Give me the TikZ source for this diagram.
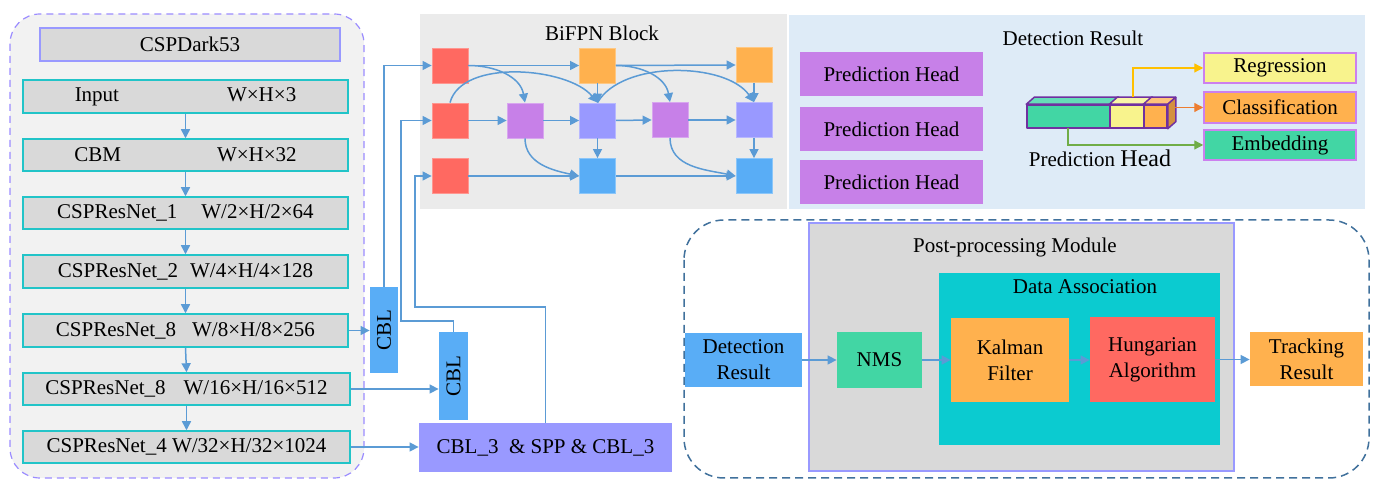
\documentclass[tikz,border=0pt]{standalone}
\usepackage{fontspec}
\usepackage{graphicx}
\setmainfont{Liberation Serif}
\usetikzlibrary{arrows.meta,calc}

\definecolor{lineblue}{HTML}{5B9BD5}
\definecolor{panelgray}{HTML}{F2F2F2}
\definecolor{bifpngray}{HTML}{EBEBEB}
\definecolor{detblue}{HTML}{DEEBF7}
\definecolor{boxgray}{HTML}{D9D9D9}
\definecolor{stageteal}{HTML}{22C4C8}
\definecolor{lav}{HTML}{9999FF}
\definecolor{lavdash}{HTML}{9B8CFF}
\definecolor{bred}{HTML}{FF6961}
\definecolor{borange}{HTML}{FFB14E}
\definecolor{bpurple}{HTML}{C780E8}
\definecolor{bblue}{HTML}{59ADF6}
\definecolor{bgreen}{HTML}{42D6A4}
\definecolor{bcyan}{HTML}{0BCBD0}
\definecolor{byellow}{HTML}{F8F38D}
\definecolor{prpurple}{HTML}{7030A0}
\definecolor{boxviolet}{HTML}{CC80EE}
\definecolor{greentop}{HTML}{66DDB8}
\definecolor{yellowtop}{HTML}{FAF5A8}
\definecolor{orangetop}{HTML}{FFC27A}
\definecolor{orangeside}{HTML}{D4913F}
\definecolor{arryellow}{HTML}{FFC000}
\definecolor{arrorange}{HTML}{ED7D31}
\definecolor{arrgreen}{HTML}{70AD47}
\definecolor{steel}{HTML}{41719C}

\begin{document}
\begin{tikzpicture}[x=0.5pt,y=-0.5pt,
  every node/.style={font=\fontsize{10.5}{13}\selectfont, inner sep=0pt},
  % a box given by its two corners (x1,y1) and (x2,y2)
  rect/.style n args={4}{minimum width={(#3-#1)*0.5pt}, minimum height={(#4-#2)*0.5pt},
    at={({(#1+#3)/2},{(#2+#4)/2})}},
  stage/.style={draw=stageteal, line width=0.75pt, fill=boxgray},
  cblbox/.style={fill=bblue},
  bn/.style={minimum width=18pt, minimum height=17.5pt, line width=0.4pt},
  arr/.style={draw=lineblue, line width=0.75pt, -{Triangle[length=4.5pt,width=4.5pt]}},
  feed/.style={draw=lineblue, line width=0.6pt, -{Triangle[length=4.5pt,width=4.5pt]}},
  headbox/.style={fill=bpurple},
  outbox/.style={draw=boxviolet, line width=0.75pt},
  face/.style={draw=prpurple, line width=0.75pt, line join=round},
  colarr/.style={line width=0.6pt, -{Triangle[length=4.5pt,width=4.5pt]}},
  ppbox/.style={align=center}
]
\useasboundingbox (0,0) rectangle (1373,480);

% ---------- backbone ----------
\draw[draw=lavdash, fill=panelgray, line width=0.6pt, dash pattern=on 3.5pt off 2.5pt, rounded corners=15pt]
  (10,14) rectangle (364,478);
\node[draw=lav, line width=0.75pt, fill=boxgray, rect={40}{28}{340}{61}] (dark) {CSPDark53};

\node[stage, rect={23}{80}{348}{113}] (inp) {Input\hspace{54pt}W×H×3};
\node[stage, rect={23}{139}{348}{171}] (cbm) {CBM\hspace{48pt}W×H×32};
\node[stage, rect={23}{197}{348}{229}] (r1) {CSPResNet\_1\hspace{12pt}W/2×H/2×64};
\node[stage, rect={23}{255}{348}{288}] (r2) {CSPResNet\_2\hspace{6pt}W/4×H/4×128};
\node[stage, rect={23}{314}{348}{347}] (r8a) {CSPResNet\_8\hspace{8pt}W/8×H/8×256};
\node[stage, rect={23}{373}{350}{405}] (r8b) {CSPResNet\_8\hspace{9pt}W/16×H/16×512};
\node[stage, rect={23}{431}{350}{463}] (r4) {CSPResNet\_4 W/32×H/32×1024};

\draw[arr] (inp.south) -- (cbm.north);
\draw[arr] (cbm.south) -- (r1.north);
\draw[arr] (r1.south) -- (r2.north);
\draw[arr] (r2.south) -- (r8a.north);
\draw[arr] (r8a.south) -- (r8b.north);
\draw[arr] (r8b.south) -- (r4.north);

% ---------- neck ----------
\node[cblbox, rect={370}{287}{398}{373}] (cbl1) {\rotatebox{90}{CBL}};
\node[cblbox, rect={439}{332}{468}{420}] (cbl2) {\rotatebox{90}{CBL}};
\node[fill=lav, rect={419}{423}{672}{472}] (spp) {CBL\_3 \ \& SPP \& CBL\_3};

\draw[arr] (r8a.east) -- (r8a.east -| cbl1.west);
\draw[arr] (r8b.east) -- (r8b.east -| cbl2.west);
\draw[arr] (r4.east) -- (r4.east -| spp.west);

% ---------- BiFPN ----------
\fill[bifpngray] (420,14) rectangle (787,209);
\node (bititle) at (602,33) {BiFPN Block};

\node[bn, fill=bred, draw=bred!70!white] (a1) at (450,65.5) {};
\node[bn, fill=bred, draw=bred!70!white] (a2) at (450,120.5) {};
\node[bn, fill=bred, draw=bred!70!white] (a3) at (450,176) {};
\node[bn, fill=bpurple, draw=bpurple!70!white] (p1) at (525,120.5) {};
\node[bn, fill=borange, draw=borange!70!white] (o1) at (597.5,65.5) {};
\node[bn, fill=lav, draw=lav!70!white] (l1) at (597.5,120.5) {};
\node[bn, fill=bblue, draw=bblue!70!white] (b1) at (597.5,176) {};
\node[bn, fill=bpurple, draw=bpurple!70!white] (p2) at (670,120) {};
\node[bn, fill=borange, draw=borange!70!white] (o2) at (754,65) {};
\node[bn, fill=lav, draw=lav!70!white] (l2) at (754,120) {};
\node[bn, fill=bblue, draw=bblue!70!white] (b2) at (754,176) {};

\draw[arr] (a1.east) -- (o1.west);
\draw[arr] (o1.east) -- (o2.west);
\draw[arr] (a2.east) -- (p1.west);
\draw[arr] (p1.east) -- (l1.west);
\draw[arr] (l1.east) -- (p2.west);
\draw[arr] (p2.east) -- (l2.west);
\draw[arr] (a3.east) -- (b1.west);
\draw[arr] (b1.east) -- (b2.west);
\draw[arr] (o1.south) -- (l1.north);
\draw[arr] (o2.south) -- (l2.north);
\draw[arr] (l1.south) -- (b1.north);
\draw[arr] (l2.south) -- (b2.north);
\draw[arr] (a1.east) to[out=0,in=100] (p1.north);
\draw[arr] (o1.east) to[out=0,in=100] (p2.north);
\draw[arr] (a2.north) to[out=75,in=130,looseness=0.8] (l1.north);
\draw[arr] (l1.north) to[out=60,in=125,looseness=0.8] (l2.north);
\draw[arr] (p1.south) to[out=-90,in=168] (b1.west);
\draw[arr] (p2.south) to[out=-90,in=168] (b2.west);

\coordinate (j2) at (401,321);
\coordinate (j3) at (415,307);
\draw[feed] (cbl1.north) |- (a1.west);
\draw[feed] (cbl2.north) |- (j2) |- (a2.west);
\draw[feed] (spp.north) |- (j3) |- (a3.west);

% ---------- detection result ----------
\fill[detblue] (789,15) rectangle (1365,209);
\node (dettitle) at (1073,38) {Detection Result};
\node[headbox, rect={800}{52}{983}{96}] (ph1) {Prediction Head};
\node[headbox, rect={800}{107}{983}{151}] (ph2) {Prediction Head};
\node[headbox, rect={800}{160}{983}{204}] (ph3) {Prediction Head};

\node[face, fill=bgreen, rect={1027}{105}{1110}{128}] (pg) {};
\node[face, fill=byellow, rect={1110}{105}{1144}{128}] (py) {};
\node[face, fill=borange, rect={1144}{105}{1167}{128}] (po) {};
\filldraw[face, fill=greentop] (pg.north west) -- ++(8,-7) -- ($(pg.north east)+(8,-7)$) -- (pg.north east) -- cycle;
\filldraw[face, fill=yellowtop] (py.north west) -- ++(8,-7) -- ($(py.north east)+(8,-7)$) -- (py.north east) -- cycle;
\filldraw[face, fill=orangetop] (po.north west) -- ++(8,-7) -- ($(po.north east)+(8,-7)$) -- (po.north east) -- cycle;
\filldraw[face, fill=orangeside] (po.north east) -- ++(8,-7) -- ($(po.south east)+(8,-7)$) -- (po.south east) -- cycle;

\node[outbox, fill=byellow, rect={1204}{53}{1356}{83}] (reg) {Regression};
\node[outbox, fill=borange, rect={1204}{92}{1356}{123}] (cls) {Classification};
\node[outbox, fill=bgreen, rect={1204}{130}{1356}{160}] (emb) {Embedding};

\coordinate (ytop) at ($(py.north)+(6,-7)$);
\coordinate (oside) at (1175,107.5);
\coordinate (gbot) at (1068,128);
\draw[colarr, draw=arryellow] (ytop) |- (reg.west);
\draw[colarr, draw=arrorange] (oside) -- (cls.west);
\draw[colarr, draw=arrgreen] (gbot) |- (emb.west);
\node[anchor=base] (phlabel) at (1100,167) {Prediction {\fontsize{12}{14}\selectfont Head}};

% ---------- post-processing ----------
\draw[draw=steel, line width=0.75pt, dash pattern=on 4pt off 2.5pt, rounded corners=20pt]
  (684,220) rectangle (1369,478);
\node[draw=lav, line width=0.75pt, fill=boxgray, rect={809}{223}{1234}{471}] (pp) {};
\node (pptitle) at (1015,247) {Post-processing Module};
\node[fill=bcyan, rect={939}{273}{1220}{445}] (da) {};
\node (datitle) at (1085,287) {Data Association};

\node[ppbox, fill=bblue, rect={685}{333}{802}{387}] (det) {Detection\\Result};
\node[ppbox, fill=bgreen, rect={837}{332}{922}{388}] (nms) {NMS};
\node[ppbox, fill=borange, rect={951}{318}{1069}{402}] (kal) {Kalman\\Filter};
\node[ppbox, fill=bred, rect={1090}{317}{1215}{402}] (hun) {Hungarian\\Algorithm};
\node[ppbox, fill=borange, rect={1250}{332}{1363}{386}] (trk) {Tracking\\Result};

\draw[arr] (det.east) -- (det.east -| nms.west);
\draw[arr] (nms.east) -- (nms.east -| kal.west);
\draw[arr] (kal.east) -- (kal.east -| hun.west);
\draw[arr] (hun.east) -- (hun.east -| trk.west);
\end{tikzpicture}
\end{document}
